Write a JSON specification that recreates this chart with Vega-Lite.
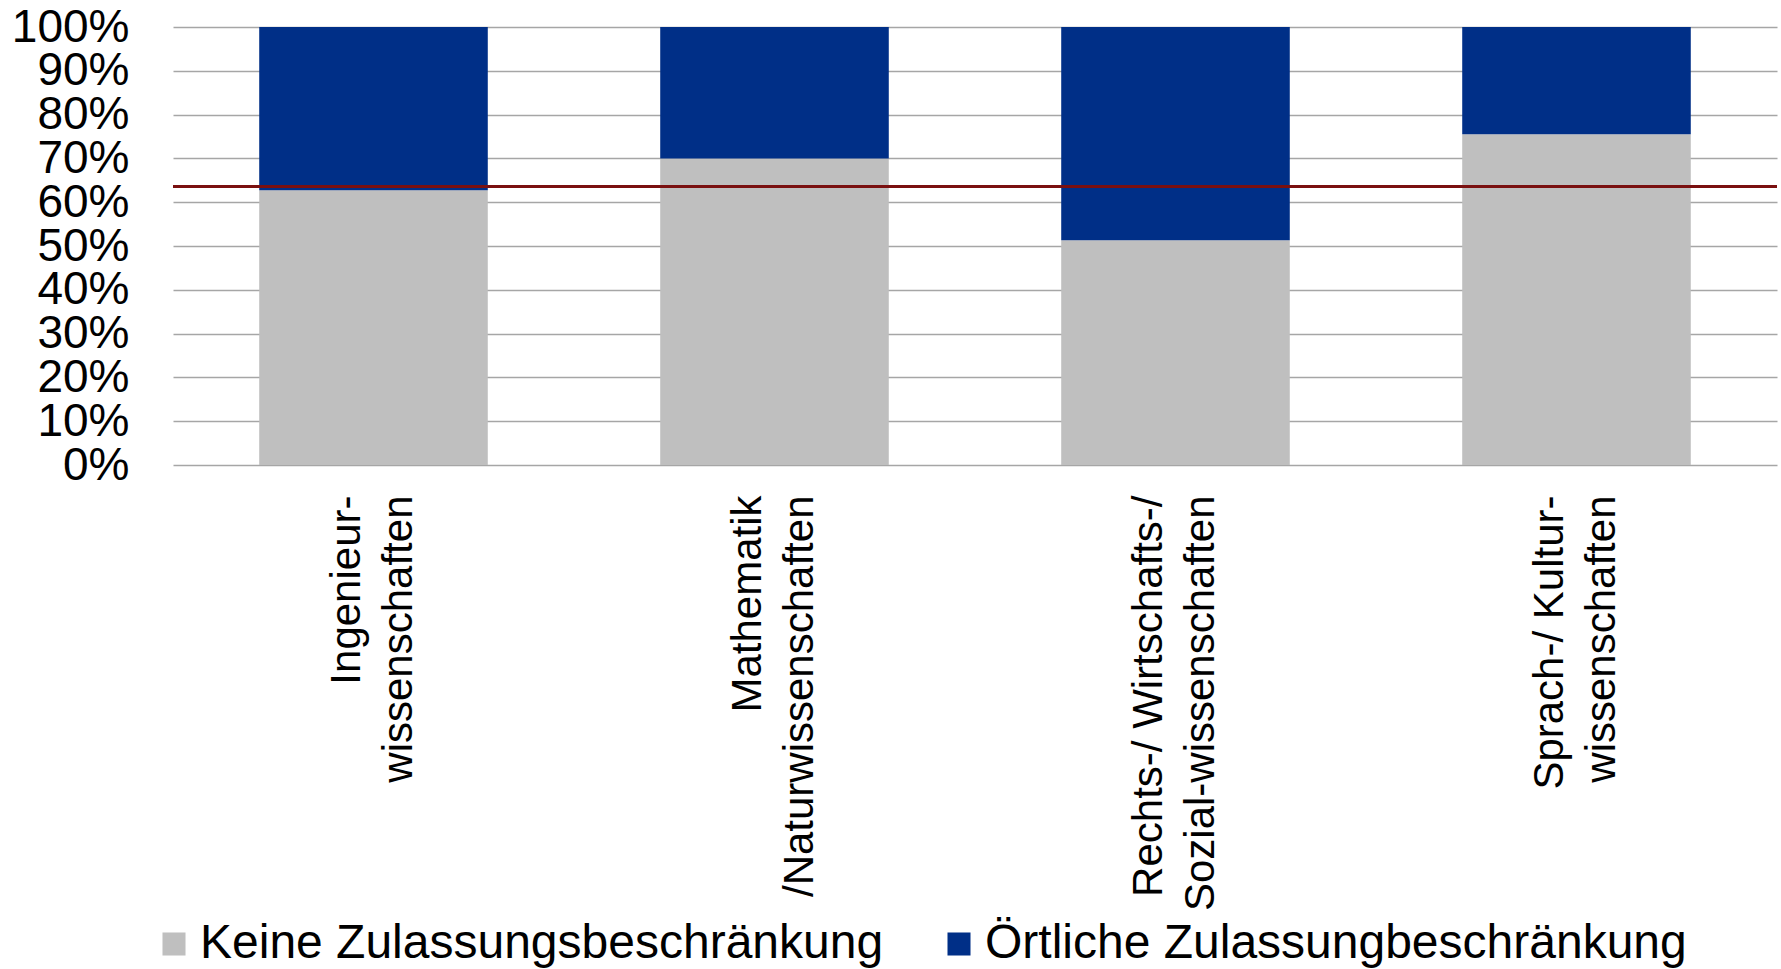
{
  "$schema": "https://vega.github.io/schema/vega-lite/v6.json",
  "width": 1604,
  "height": 438,
  "autosize": {"type": "none"},
  "padding": {"left": 173, "top": 27, "right": 4, "bottom": 504},
  "background": "white",
  "config": {"view": {"stroke": null}, "font": "Liberation Sans"},
  "data": {
    "values": [
      {"Fach": "Ingenieur-|wissenschaften", "Kategorie": "Keine Zulassungsbeschränkung", "Anteil": 0.627, "Reihe": 1},
      {"Fach": "Ingenieur-|wissenschaften", "Kategorie": "Örtliche Zulassungbeschränkung", "Anteil": 0.373, "Reihe": 2},
      {"Fach": "Mathematik|/Naturwissenschaften", "Kategorie": "Keine Zulassungsbeschränkung", "Anteil": 0.70, "Reihe": 1},
      {"Fach": "Mathematik|/Naturwissenschaften", "Kategorie": "Örtliche Zulassungbeschränkung", "Anteil": 0.30, "Reihe": 2},
      {"Fach": "Rechts-/ Wirtschafts-/|Sozial-wissenschaften", "Kategorie": "Keine Zulassungsbeschränkung", "Anteil": 0.513, "Reihe": 1},
      {"Fach": "Rechts-/ Wirtschafts-/|Sozial-wissenschaften", "Kategorie": "Örtliche Zulassungbeschränkung", "Anteil": 0.487, "Reihe": 2},
      {"Fach": "Sprach-/ Kultur-|wissenschaften", "Kategorie": "Keine Zulassungsbeschränkung", "Anteil": 0.755, "Reihe": 1},
      {"Fach": "Sprach-/ Kultur-|wissenschaften", "Kategorie": "Örtliche Zulassungbeschränkung", "Anteil": 0.245, "Reihe": 2}
    ]
  },
  "layer": [
    {
      "mark": {"type": "bar"},
      "encoding": {
        "x": {
          "field": "Fach",
          "type": "nominal",
          "sort": null,
          "scale": {"paddingInner": 0.43, "paddingOuter": 0.215},
          "axis": {
            "title": null,
            "labelAngle": -90,
            "labelFontSize": 42,
            "labelLineHeight": 52,
            "labelPadding": 30,
            "labelOffset": -27,
            "labelColor": "#000000",
            "labelLimit": 0,
            "labelOverlap": false,
            "ticks": false,
            "domain": false,
            "labelExpr": "split(datum.label, '|')"
          }
        },
        "y": {
          "field": "Anteil",
          "type": "quantitative",
          "stack": "zero",
          "scale": {"domain": [0, 1], "nice": false},
          "axis": {
            "title": null,
            "format": ".0%",
            "values": [0, 0.1, 0.2, 0.3, 0.4, 0.5, 0.6, 0.7, 0.8, 0.9, 1],
            "labelFontSize": 46,
            "labelColor": "#000000",
            "labelPadding": 44,
            "labelOverlap": false,
            "labelBound": false,
            "labelFlush": false,
            "ticks": false,
            "domain": false,
            "gridColor": "#a6a6a6",
            "gridWidth": 1.5,
            "gridOpacity": 1
          }
        },
        "color": {
          "field": "Kategorie",
          "type": "nominal",
          "scale": {
            "domain": ["Keine Zulassungsbeschränkung", "Örtliche Zulassungbeschränkung"],
            "range": ["#bfbfbf", "#002f87"]
          },
          "legend": {
            "title": null,
            "orient": "none",
            "legendX": -23,
            "legendY": 893,
            "direction": "horizontal",
            "symbolType": "square",
            "symbolSize": 530,
            "symbolStrokeWidth": 0,
            "labelFontSize": 48,
            "labelColor": "#000000",
            "labelOffset": 2,
            "labelLimit": 0,
            "columnPadding": 51
          }
        },
        "order": {"field": "Reihe", "type": "quantitative"}
      }
    },
    {
      "mark": {"type": "rule", "color": "#7a1010", "strokeWidth": 2.5},
      "encoding": {"y": {"datum": 0.635}}
    }
  ]
}
